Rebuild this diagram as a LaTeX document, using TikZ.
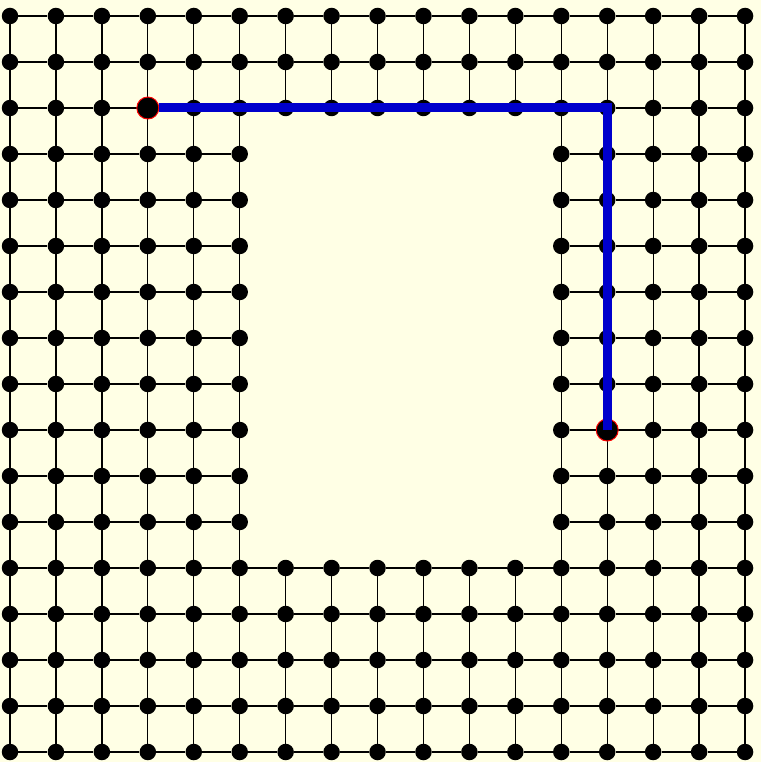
\documentclass[tikz,border=0pt]{standalone}
\usetikzlibrary{backgrounds}
\definecolor{paper}{RGB}{255,255,229}
\definecolor{routeblue}{RGB}{0,0,204}

% cells of the grid that are cut out
\pgfmathdeclarefunction{hole}{2}{%
  \pgfmathparse{and(and(#1>5,#1<12),and(#2>2,#2<12))}}

\begin{document}
\begin{tikzpicture}[x=1pt,y=-1pt,
  vert/.style={circle,fill=black,inner sep=0pt,minimum size=16.5pt},
  endvert/.style={circle,fill=black,draw=red,line width=1pt,inner sep=0pt,minimum size=22pt},
  edge/.style={line width=1.3pt,black},
  route/.style={line width=9pt,draw=routeblue}]
\useasboundingbox (0,0) rectangle (761,762);
% ---------- vertices ----------
\foreach \i in {0,...,16}{
  \foreach \j in {0,...,16}{
    \pgfmathtruncatemacro\cut{hole(\i,\j)}
    \ifnum\cut=0
      \node[vert] (n-\i-\j) at ({10+45.94*\i},{16+46*\j}) {};
    \fi
  }
}
% ---------- edges ----------
\begin{scope}[on background layer]
  \fill[paper] (0,0) rectangle (761,762);
  \foreach \i in {0,...,15}{
    \foreach \j in {0,...,16}{
      \pgfmathtruncatemacro\cut{hole(\i,\j)+hole(\i+1,\j)}
      \ifnum\cut=0
        \pgfmathtruncatemacro\k{\i+1}
        \draw[edge] (n-\i-\j) -- (n-\k-\j);
      \fi
    }
  }
  \foreach \i in {0,...,16}{
    \foreach \j in {0,...,15}{
      \pgfmathtruncatemacro\cut{hole(\i,\j)+hole(\i,\j+1)}
      \ifnum\cut=0
        \pgfmathtruncatemacro\k{\j+1}
        \draw[edge] (n-\i-\j) -- (n-\i-\k);
      \fi
    }
  }
\end{scope}
% ---------- path ----------
\node[endvert] (start) at (n-3-2) {};
\node[endvert] (goal) at (n-13-9) {};
\draw[route] (start.east) -- (n-13-2.center) -- (goal.center);
\end{tikzpicture}
\end{document}
